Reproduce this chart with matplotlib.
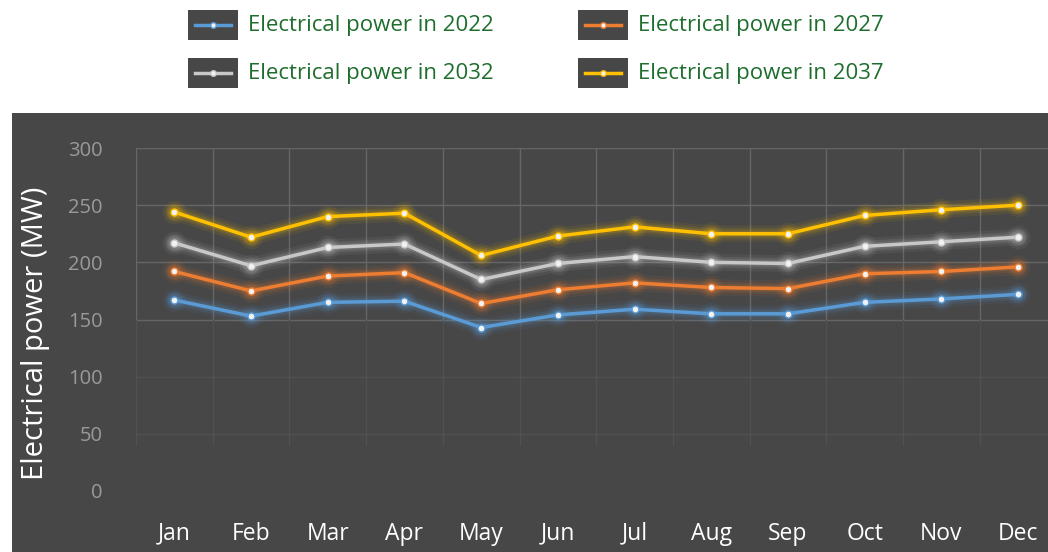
import numpy as np
import matplotlib.pyplot as plt
from matplotlib.patches import Rectangle
from matplotlib.lines import Line2D

months = ["Jan", "Feb", "Mar", "Apr", "May", "Jun", "Jul", "Aug", "Sep", "Oct", "Nov", "Dec"]
power_2022 = [167, 153, 165, 166, 143, 154, 159, 155, 155, 165, 168, 172]
power_2027 = [192, 175, 188, 191, 164, 176, 182, 178, 177, 190, 192, 196]
power_2032 = [217, 197, 213, 216, 185, 199, 205, 200, 199, 214, 218, 222]
power_2037 = [244, 222, 240, 243, 206, 223, 231, 225, 225, 241, 246, 250]
series_labels = ["Electrical power in 2022", "Electrical power in 2027",
                 "Electrical power in 2032", "Electrical power in 2037"]
series_colors = ["#5b9bd5", "#ed7d31", "#c8c8c8", "#ffc000"]
y_ticks = [0, 50, 100, 150, 200, 250, 300]

plt.rcParams['font.family'] = ['Open Sans', 'DejaVu Sans']

fig = plt.figure(figsize=(10.48, 5.52), dpi=100)
fig.patch.set_facecolor("white")

# dark panel behind the chart
fig.add_artist(Rectangle((12 / 1048, 0), 1, (552 - 113) / 552,
                         transform=fig.transFigure, facecolor="#474747",
                         edgecolor="none", zorder=0))

ax = fig.add_axes([136 / 1048, (552 - 491) / 552, 12 * 76.7 / 1048, (491 - 148) / 552])
ax.set_facecolor("none")
ax.set_zorder(1)

x = np.arange(len(months))
all_series = [power_2022, power_2027, power_2032, power_2037]

# grid lines (horizontal at ticks, vertical between categories), fading lower down
for yv in y_ticks:
    c = "#666666" if yv >= 150 else "#515151"
    ax.axhline(yv, color=c, lw=1, zorder=1)
for xv in np.arange(-0.5, 12.5, 1):
    ax.plot([xv, xv], [150, 300], color="#666666", lw=1, zorder=1)
    ax.plot([xv, xv], [40, 150], color="#515151", lw=1, zorder=1)

for vals, col in zip(all_series, series_colors):
    # soft glow
    for lw, a in [(12, 0.07), (8, 0.11), (5, 0.16)]:
        ax.plot(x, vals, color=col, lw=lw, alpha=a, solid_capstyle="round", zorder=2)
        ax.plot(x, vals, "o", color=col, ms=lw + 5, alpha=a, mec="none", zorder=2)
    ax.plot(x, vals, color=col, lw=2.5, zorder=3)
    ax.plot(x, vals, "o", color="#f2f2f2", ms=5, mec=col, mew=1, zorder=4)

ax.set_xlim(-0.5, 11.5)
ax.set_ylim(0, 300)
ax.set_xticks(x)
ax.set_xticklabels(months, color="white", fontsize=16.5)
ax.set_yticks(y_ticks)
ax.set_yticklabels([str(v) for v in y_ticks], color="#9a9a9a", fontsize=14.5)
ax.tick_params(axis="x", length=0, pad=22)
ax.tick_params(axis="y", length=0, pad=24)
for s in ax.spines.values():
    s.set_visible(False)

fig.text(36 / 1048, (552 - 333) / 552, "Electrical power (MW)", rotation=90,
         color="white", fontsize=21, ha="center", va="center")

# legend drawn by hand: dark square with line sample + green text
legend_pos = [(188, 25), (578, 25), (188, 73), (578, 73)]
for (px, py), lab, col in zip(legend_pos, series_labels, series_colors):
    fig.add_artist(Rectangle((px / 1048, (552 - py - 15) / 552), 50 / 1048, 30 / 552,
                             transform=fig.transFigure, facecolor="#474747",
                             edgecolor="none"))
    yy = (552 - py) / 552
    fig.add_artist(Line2D([(px + 7) / 1048, (px + 43) / 1048], [yy, yy],
                          transform=fig.transFigure, color=col, lw=2.5))
    fig.add_artist(Line2D([(px + 25) / 1048], [yy], transform=fig.transFigure,
                          marker="o", ms=4, color="#f2f2f2", mec=col))
    fig.text((px + 60) / 1048, yy, lab, color="#1e6e2e", fontsize=16,
             ha="left", va="center")

fig.savefig("out.png", dpi=100, facecolor="white")
